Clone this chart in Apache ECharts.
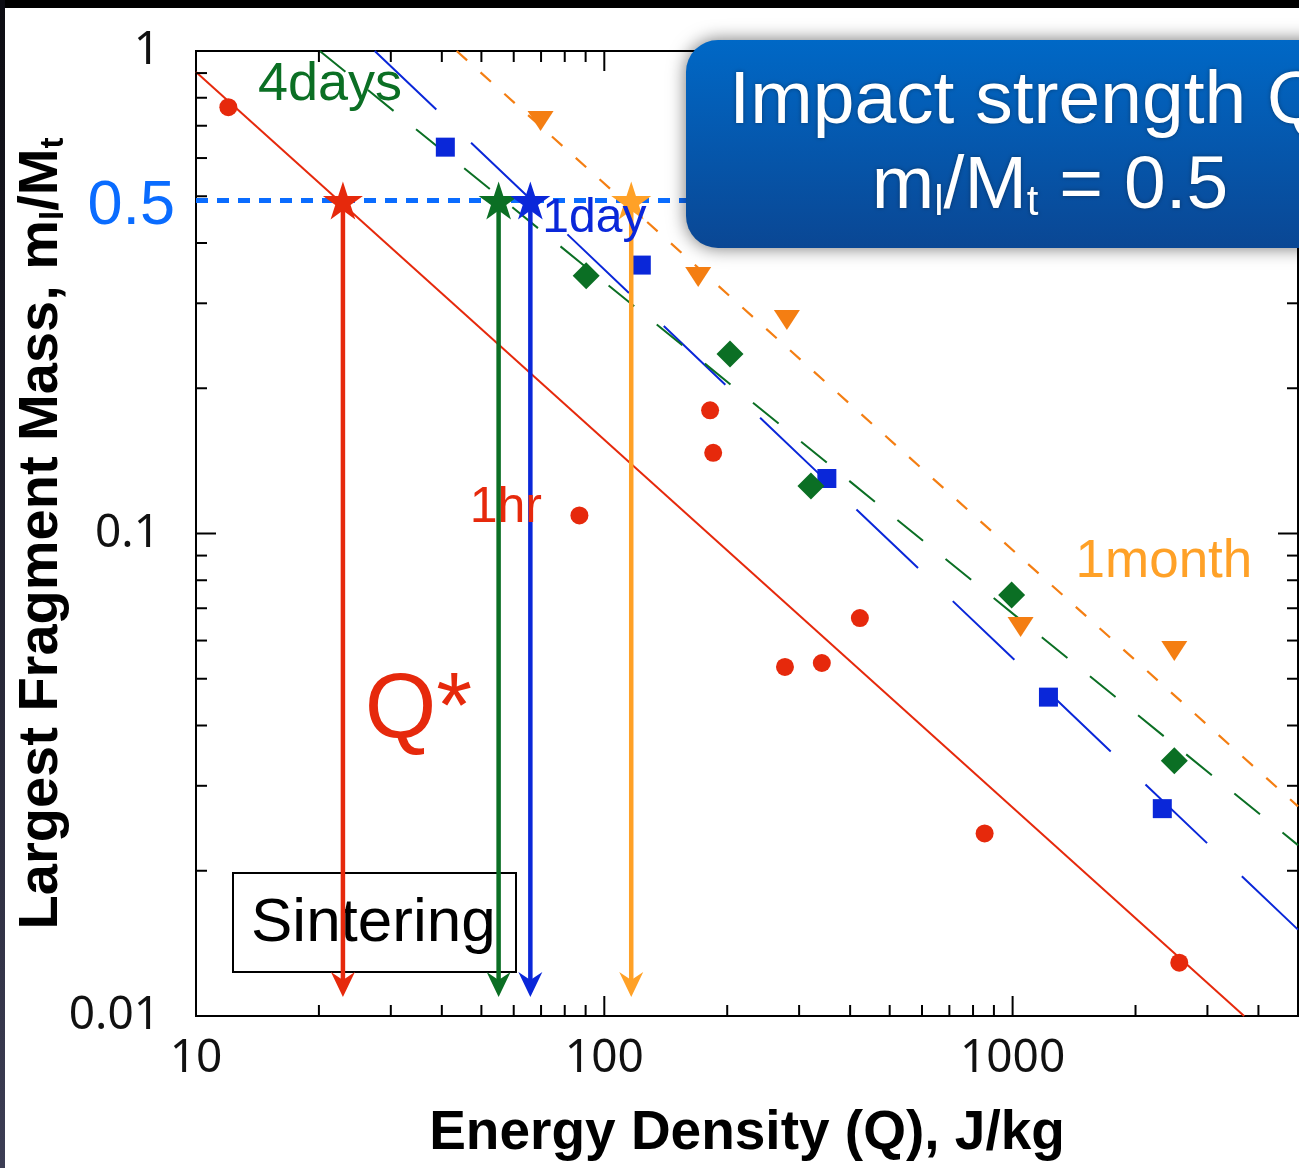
<!DOCTYPE html>
<html><head><meta charset="utf-8">
<script src="https://cdn.jsdelivr.net/npm/echarts@6/dist/echarts.min.js"></script>
<style>html,body{margin:0;padding:0;background:#fff}#c{width:1299px;height:1168px}</style>
</head><body><div id="c"></div>
<script>
// ---------------- data ----------------
const hr1_Q = [12.0, 181.6, 184.8, 86.9, 422.6, 277, 341, 854, 2560];
const hr1_m = [0.765, 0.180, 0.147, 0.109, 0.0668, 0.0529, 0.0539, 0.0239, 0.0129];
const day1_Q = [40.8, 123.2, 350.8, 1224, 2326];
const day1_m = [0.632, 0.360, 0.130, 0.0458, 0.0269];
const days4_Q = [90.3, 203.2, 320.7, 994.5, 2489];
const days4_m = [0.342, 0.2355, 0.1254, 0.0746, 0.0338];
const month1_Q = [69.8, 169.8, 280, 1046, 2489];
const month1_m = [0.716, 0.340, 0.277, 0.0640, 0.0571];
// power-law fit lines (end points)
const fit_hr1 = [[10, 0.905], [3690, 0.01]];
const fit_day1 = [[27.4, 1], [5000, 0.0151]];
const fit_days4 = [[20.1, 1], [5000, 0.0226]];
const fit_month1 = [[43.5, 1], [5000, 0.0272]];
// Q* read at ml/Mt = 0.5
const qstar_level = 0.49;
const qstar_Q = [22.9, 55.1, 65.9, 116.4];   // 1hr, 4days, 1day, 1month
const arrow_tip_m = 0.01095;
const dotted_end_Q = 160;
// ticks
const xTickLabels = [10, 100, 1000];
const xTicksMinor = [20,30,40,50,60,70,80,90,200,300,400,500,600,700,800,900,2000,3000,4000];
const yTickLabels = [0.01, 0.1, 1];
const yTicksMinor = [0.02,0.03,0.04,0.05,0.06,0.07,0.08,0.09,0.2,0.3,0.4,0.5,0.6,0.7,0.8,0.9];
// text annotations: [text, Q, m]
const annoText = ['4days', '1day', '1hr', '1month', 'Q*'];
const annoQ = [14.18, 70.5, 46.8, 1426, 25.9];
const annoM = [0.850, 0.4485, 0.1127, 0.0871, 0.0427];

// ---------------- styles ----------------
const RED = '#e6290c', GREEN = '#0b6f24', BLUE = '#0a27d9', ORANGE = '#f47e12', LORANGE = '#ffa127', LBLUE = '#0a6cff';
const starColors = [RED, GREEN, BLUE, LORANGE];
const annoColors = [GREEN, BLUE, RED, LORANGE, RED];
const annoSizes = [54, 48, 50, 53, 92];
const STAR = 'path://M50,0 L61.2,34.5 L97.6,34.5 L68.2,55.9 L79.4,90.5 L50,69.1 L20.6,90.5 L31.8,55.9 L2.4,34.5 L38.8,34.5 Z';
const TICKFONT = '"Noto Sans", "Liberation Sans", sans-serif';
const SANS = '"Liberation Sans", Arial, Helvetica, sans-serif';

const zip = (a, b) => a.map((v, i) => [v, b[i]]);

const xTickData = xTickLabels.map(v => [v, 0.1, 1]).concat(xTicksMinor.map(v => [v, 0.1, 0]));
const yTickData = yTickLabels.map(v => [100, v, 1]).concat(yTicksMinor.map(v => [100, v, 0]));
const arrowData = qstar_Q.map((q, i) => [q, qstar_level, arrow_tip_m, i]);

const chart = echarts.init(document.getElementById('c'), null, {renderer: 'canvas'});

function tickLine(x1, y1, x2, y2) {
  return {type: 'line', shape: {x1, y1, x2, y2}, style: {stroke: '#000', lineWidth: 2}};
}

const option = {
  animation: false,
  backgroundColor: '#fff',
  grid: {left: 196, right: 1, top: 51, bottom: 152, outerBoundsMode: 'none', containLabel: false,
    show: true, borderColor: '#000', borderWidth: 2, backgroundColor: 'transparent'},
  xAxis: {
    type: 'log', logBase: 10, min: 10, max: 5000,
    axisLine: {show: true, lineStyle: {color: '#000', width: 2}},
    axisTick: {show: false}, splitLine: {show: false}, minorTick: {show: false},
    axisLabel: {
      margin: 20, fontSize: 46, fontFamily: TICKFONT, color: '#111',
      formatter: v => {
        const l = Math.log10(v);
        return Math.abs(l - Math.round(l)) < 1e-6 && xTickLabels.includes(Math.round(v)) ? String(Math.round(v)) : '';
      }
    },
    name: 'Energy Density (Q), J/kg', nameLocation: 'middle', nameGap: 90, nameMoveOverlap: false,
    nameTextStyle: {fontFamily: SANS, fontWeight: 'bold', fontSize: 55, color: '#000'}
  },
  yAxis: {
    type: 'log', logBase: 10, min: 0.01, max: 1,
    axisLine: {show: true, lineStyle: {color: '#000', width: 2}},
    axisTick: {show: false}, splitLine: {show: false}, minorTick: {show: false},
    axisLabel: {
      margin: 36, fontSize: 46, fontFamily: TICKFONT, color: '#111',
      formatter: v => {
        const r = Math.round(Math.log10(v));
        return String(parseFloat(Math.pow(10, r).toFixed(4)));
      }
    },
    name: 'Largest Fragment Mass, m{s|l}/M{s|t}', nameLocation: 'middle', nameGap: 126, nameMoveOverlap: false,
    nameTextStyle: {fontFamily: SANS, fontWeight: 'bold', fontSize: 56, color: '#000',
      rich: {s: {fontFamily: SANS, fontWeight: 'bold', fontSize: 33, color: '#000', verticalAlign: 'bottom'}}}
  },
  series: [
    // tick marks on the four sides
    {type: 'custom', name: 'xticks', data: xTickData, encode: {x: 0, y: 1}, clip: false, silent: true, z: 5,
      renderItem: (p, api) => {
        const v = api.value(0), L = api.value(2) ? 20 : 11;
        const b = api.coord([v, 0.01]), t = api.coord([v, 1]);
        return {type: 'group', children: [tickLine(b[0], b[1], b[0], b[1] - L), tickLine(t[0], t[1], t[0], t[1] + L)]};
      }},
    {type: 'custom', name: 'yticks', data: yTickData, encode: {x: 0, y: 1}, clip: false, silent: true, z: 5,
      renderItem: (p, api) => {
        const v = api.value(1), L = api.value(2) ? 20 : 11;
        const l = api.coord([10, v]), r = api.coord([5000, v]);
        return {type: 'group', children: [tickLine(l[0], l[1], l[0] + L, l[1]), tickLine(r[0], r[1], r[0] - L, r[1])]};
      }},
    // fit lines
    {type: 'line', name: 'fit 1hr', data: fit_hr1, symbol: 'none', lineStyle: {color: RED, width: 2}, z: 2},
    {type: 'line', name: 'fit 1day', data: fit_day1, symbol: 'none', lineStyle: {color: BLUE, width: 2, type: [85, 48]}, z: 2},
    {type: 'line', name: 'fit 4days', data: fit_days4, symbol: 'none', lineStyle: {color: GREEN, width: 2, type: [33, 29]}, z: 2},
    {type: 'line', name: 'fit 1month', data: fit_month1, symbol: 'none', lineStyle: {color: ORANGE, width: 2.2, type: [14, 18]}, z: 2},
    // 0.5 level
    {type: 'line', name: 'level', data: [[10, qstar_level], [dotted_end_Q, qstar_level]], symbol: 'none',
      lineStyle: {color: LBLUE, width: 5, type: [12, 9]}, z: 3},
    // measured points
    {type: 'scatter', name: '1hr', data: zip(hr1_Q, hr1_m), symbol: 'circle', symbolSize: 18, itemStyle: {color: RED, opacity: 1}, z: 6},
    {type: 'scatter', name: '1day', data: zip(day1_Q, day1_m), symbol: 'rect', symbolSize: 19, itemStyle: {color: BLUE, opacity: 1}, z: 6},
    {type: 'scatter', name: '4days', data: zip(days4_Q, days4_m), symbol: 'diamond', symbolSize: 27, itemStyle: {color: GREEN, opacity: 1}, z: 6},
    {type: 'scatter', name: '1month', data: zip(month1_Q, month1_m), symbol: 'path://M0,0 L26,0 L13,20 Z', symbolSize: [26, 20], symbolKeepAspect: false, itemStyle: {color: ORANGE, opacity: 1}, z: 6},
    // arrows from Q* down to the axis
    {type: 'custom', name: 'Q* arrows', data: arrowData, encode: {x: 0, y: 1}, clip: false, silent: true, z: 7,
      renderItem: (p, api) => {
        const s = api.coord([api.value(0), api.value(1)]);
        const t = api.coord([api.value(0), api.value(2)]);
        const c = starColors[api.value(3)];
        const x = s[0], tip = t[1];
        return {type: 'group', children: [
          {type: 'line', shape: {x1: x, y1: s[1], x2: x, y2: tip - 16}, style: {stroke: c, lineWidth: 4.5}},
          {type: 'polygon', shape: {points: [[x, tip], [x - 12, tip - 25], [x, tip - 17], [x + 12, tip - 25]]}, style: {fill: c}}
        ]};
      }},
    // Q* stars
    {type: 'scatter', name: 'Q*', symbol: STAR, symbolSize: 40, symbolKeepAspect: true, z: 8, clip: false,
      data: qstar_Q.map((q, i) => ({value: [q, qstar_level], itemStyle: {color: starColors[i], opacity: 1}}))},
    // text annotations
    {type: 'scatter', name: 'annotations', symbolSize: 0, silent: true, clip: false, z: 9, itemStyle: {opacity: 1},
      data: annoText.map((t, i) => ({
        value: [annoQ[i], annoM[i]],
        label: {show: true, formatter: t, position: [0, 0], align: 'left', verticalAlign: 'middle', opacity: 1,
          color: annoColors[i], fontSize: annoSizes[i], fontFamily: SANS}
      })).concat([{
        value: [10, qstar_level],
        label: {show: true, formatter: '0.5', position: 'left', distance: 21, offset: [0, 6], opacity: 1,
          color: LBLUE, fontSize: 63, fontFamily: SANS}
      }])}
  ],
  graphic: [
    {type: 'rect', z: 1, shape: {x: 233, y: 873, width: 283, height: 99},
      style: {fill: 'none', stroke: '#000', lineWidth: 2}},
    {type: 'text', z: 1, x: 251, y: 924, style: {text: 'Sintering', fill: '#000', font: '62px ' + SANS, textAlign: 'left', verticalAlign: 'middle'}},
    {type: 'rect', z: 100, shape: {x: 686, y: 40, width: 720, height: 208, r: 32},
      style: {fill: {type: 'linear', x: 0, y: 0, x2: 0, y2: 1, colorStops: [{offset: 0, color: '#0068c6'}, {offset: 1, color: '#0a4794'}]},
        shadowBlur: 18, shadowColor: 'rgba(0,0,0,0.55)'}},
    {type: 'text', z: 101, x: 1042, y: 102, style: {text: 'Impact strength Q*', fill: '#fff', font: '75px ' + SANS, textAlign: 'center', verticalAlign: 'middle',
      textShadowBlur: 4, textShadowColor: 'rgba(0,0,0,0.35)'}},
    {type: 'text', z: 101, x: 1050, y: 187, style: {text: 'm{s|l}/M{s|t} = 0.5', fill: '#fff', font: '75px ' + SANS, textAlign: 'center', verticalAlign: 'middle',
      rich: {s: {fontSize: 42, fontFamily: SANS, fill: '#fff', verticalAlign: 'bottom'}},
      textShadowBlur: 4, textShadowColor: 'rgba(0,0,0,0.35)'}},
    {type: 'rect', z: 200, shape: {x: 0, y: 0, width: 1299, height: 8}, style: {fill: '#000'}},
    {type: 'rect', z: 200, shape: {x: 0, y: 0, width: 5, height: 1168},
      style: {fill: {type: 'linear', x: 0, y: 0, x2: 0, y2: 1, colorStops: [{offset: 0, color: '#0c0c12'}, {offset: 1, color: '#3c3d54'}]}}}
  ]
};
chart.setOption(option);
</script></body></html>
